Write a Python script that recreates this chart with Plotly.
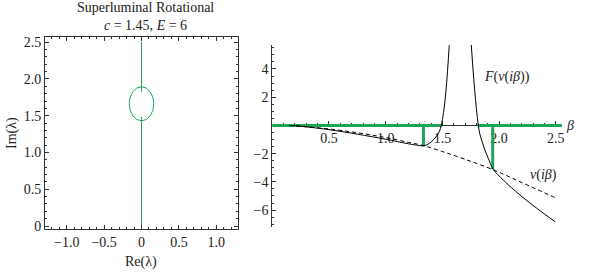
import plotly.graph_objects as go

# ---------------- data ----------------
# left panel: spectrum in the complex plane
spec_line_lower_im = [0.0, 1.485]
spec_line_upper_im = [1.825, 2.5]
spec_re = [0.0, 0.0]
ellipse_center = (0.0, 1.662)
ellipse_semi = (0.164, 0.231)

# right panel: F(nu(i beta)) branches and nu(i beta)
beta_F1 = [0.18, 0.3, 0.5, 0.75, 1.0, 1.2, 1.3, 1.333, 1.38, 1.42, 1.45, 1.475, 1.49, 1.51, 1.53, 1.545, 1.56, 1.575]
F1 = [0.0, -0.1, -0.3, -0.62, -0.98, -1.3, -1.43, -1.45, -1.3, -1.02, -0.75, -0.4, 0.0, 0.9, 2.3, 3.8, 5.6, 7.5]
beta_F2 = [1.74, 1.755, 1.77, 1.785, 1.80, 1.817, 1.83, 1.846, 1.875, 1.905, 1.949, 2.037, 2.184, 2.332, 2.493]
F2 = [7.5, 5.7, 4.0, 2.5, 1.2, 0.0, -0.6, -1.03, -1.75, -2.33, -3.11, -3.87, -4.93, -5.87, -6.82]
beta_nu = [0.15, 0.3, 0.5, 0.75, 1.0, 1.2, 1.333, 1.5, 1.7, 1.944, 2.2, 2.49]
nu = [-0.02, -0.1, -0.25, -0.52, -0.86, -1.2, -1.43, -1.85, -2.4, -3.13, -4.05, -5.1]
green_h_x = [[0.0, 1.49], [1.817, 2.555]]
green_roots = [1.333, 1.944]
green_root_vals = [-1.45, -3.11]

left_xticks = [-1.0, -0.5, 0.0, 0.5, 1.0]
left_xtext = ["\u22121.0", "\u22120.5", "0", "0.5", "1.0"]
left_yticks = [0, 0.5, 1.0, 1.5, 2.0, 2.5]
left_ytext = ["0", "0.5", "1.0", "1.5", "2.0", "2.5"]
right_xticks = [0.5, 1.0, 1.5, 2.0, 2.5]
right_xtext = ["0.5", "1.0", "1.5", "2.0", "2.5"]
right_yticks = [-6, -4, -2, 2, 4]
right_ytext = ["\u22126", "\u22124", "\u22122", "2", "4"]

GREEN = "#1aa655"
GREEN_THIN = "#2a9a5e"
FONT = "Liberation Serif"
FS = 14
W, H = 600, 275

fig = go.Figure()

# left panel
fig.add_trace(go.Scatter(x=spec_re, y=spec_line_lower_im, mode="lines",
                         line=dict(color=GREEN_THIN, width=1), xaxis="x", yaxis="y", showlegend=False))
fig.add_trace(go.Scatter(x=spec_re, y=spec_line_upper_im, mode="lines",
                         line=dict(color=GREEN_THIN, width=1), xaxis="x", yaxis="y", showlegend=False))
cx, cy = ellipse_center
ax_, ay_ = ellipse_semi
fig.add_shape(type="circle", xref="x", yref="y", x0=cx - ax_, x1=cx + ax_, y0=cy - ay_, y1=cy + ay_,
              line=dict(color=GREEN, width=1))

# right panel
for xs in green_h_x:
    fig.add_trace(go.Scatter(x=xs, y=[0, 0], mode="lines", line=dict(color=GREEN, width=3),
                             xaxis="x2", yaxis="y2", showlegend=False))
for b, v in zip(green_roots, green_root_vals):
    fig.add_trace(go.Scatter(x=[b, b], y=[0, v], mode="lines", line=dict(color=GREEN, width=3),
                             xaxis="x2", yaxis="y2", showlegend=False))
fig.add_trace(go.Scatter(x=beta_nu, y=nu, mode="lines", line=dict(color="black", width=1, dash="4px,3px"),
                         line_shape="spline", xaxis="x2", yaxis="y2", showlegend=False))
fig.add_trace(go.Scatter(x=beta_F1, y=F1, mode="lines", line=dict(color="black", width=1),
                         line_shape="spline", xaxis="x2", yaxis="y2", showlegend=False))
fig.add_trace(go.Scatter(x=beta_F2, y=F2, mode="lines", line=dict(color="black", width=1),
                         line_shape="spline", xaxis="x2", yaxis="y2", showlegend=False))

# geometry
def px(x):
    return x / W
def py(y):
    return 1 - y / H

r_yrange = [-7.2, 5.7]
r_ydom = [py(227), py(45)]
zero_pos = r_ydom[0] + (0 - r_yrange[0]) / (r_yrange[1] - r_yrange[0]) * (r_ydom[1] - r_ydom[0])

tickfont = dict(family=FONT, size=FS, color="#222")
fig.update_layout(
    width=W, height=H, margin=dict(l=0, r=0, t=0, b=0, autoexpand=False),
    paper_bgcolor="white", plot_bgcolor="white",
    font=dict(family=FONT, size=FS, color="#222"),
    xaxis=dict(domain=[px(45), px(238)], range=[-1.29, 1.29], showgrid=False, zeroline=False,
               showline=True, linecolor="#333", linewidth=1, mirror="ticks",
               ticks="inside", ticklen=4, tickcolor="#333", tickvals=left_xticks, ticktext=left_xtext,
               minor=dict(ticks="inside", ticklen=2, dtick=0.1, tickcolor="#333"),
               tickfont=tickfont, anchor="y", automargin=False),
    yaxis=dict(domain=[py(229), py(37)], range=[-0.04, 2.57], showgrid=False, zeroline=False,
               showline=True, linecolor="#333", linewidth=1, mirror="ticks",
               ticks="inside", ticklen=4, tickcolor="#333", tickvals=left_yticks, ticktext=left_ytext,
               minor=dict(ticks="inside", ticklen=2, dtick=0.1, tickcolor="#333"),
               tickfont=tickfont, anchor="x", automargin=False),
    xaxis2=dict(domain=[px(272.3), px(562)], range=[0, 2.555], showgrid=False, zeroline=False,
                showline=True, linecolor="#333", linewidth=1, anchor="free", position=zero_pos,
                ticks="inside", ticklen=4, tickcolor="#333", tickvals=right_xticks, ticktext=right_xtext,
                minor=dict(ticks="inside", ticklen=2, dtick=0.1, tickcolor="#333"),
                tickfont=tickfont, layer="below traces", automargin=False),
    yaxis2=dict(domain=r_ydom, range=r_yrange, showgrid=False, zeroline=False,
                showline=True, linecolor="#333", linewidth=1, anchor="x2",
                ticks="inside", ticklen=4, tickcolor="#333", tickvals=right_yticks, ticktext=right_ytext,
                minor=dict(ticks="inside", ticklen=2, dtick=0.5, tickcolor="#333"),
                tickfont=tickfont, layer="below traces", automargin=False),
)

annots = [
    dict(text="Superluminal Rotational", x=px(145), y=py(8)),
    dict(text="<i>c</i> = 1.45, <i>E</i> = 6", x=px(145), y=py(25)),
    dict(text="Re(\u03bb)", x=px(141), y=py(262)),
    dict(text="Im(\u03bb)", x=px(12), y=py(133), textangle=-90),
    dict(text="<i>F</i>(<i>\u03bd</i>(<i>i\u03b2</i>))", x=px(507), y=py(77)),
    dict(text="<i>\u03bd</i>(<i>i\u03b2</i>)", x=px(543), y=py(175)),
    dict(text="<i>\u03b2</i>", x=px(570), y=py(125)),
]
for a in annots:
    fig.add_annotation(xref="paper", yref="paper", showarrow=False, xanchor="center", yanchor="middle",
                       font=dict(family=FONT, size=FS, color="#222"), **a)

fig.write_html("out.html", config={"displayModeBar": False, "staticPlot": True},
               post_script="document.body.style.margin='0';document.body.style.overflow='hidden';")
